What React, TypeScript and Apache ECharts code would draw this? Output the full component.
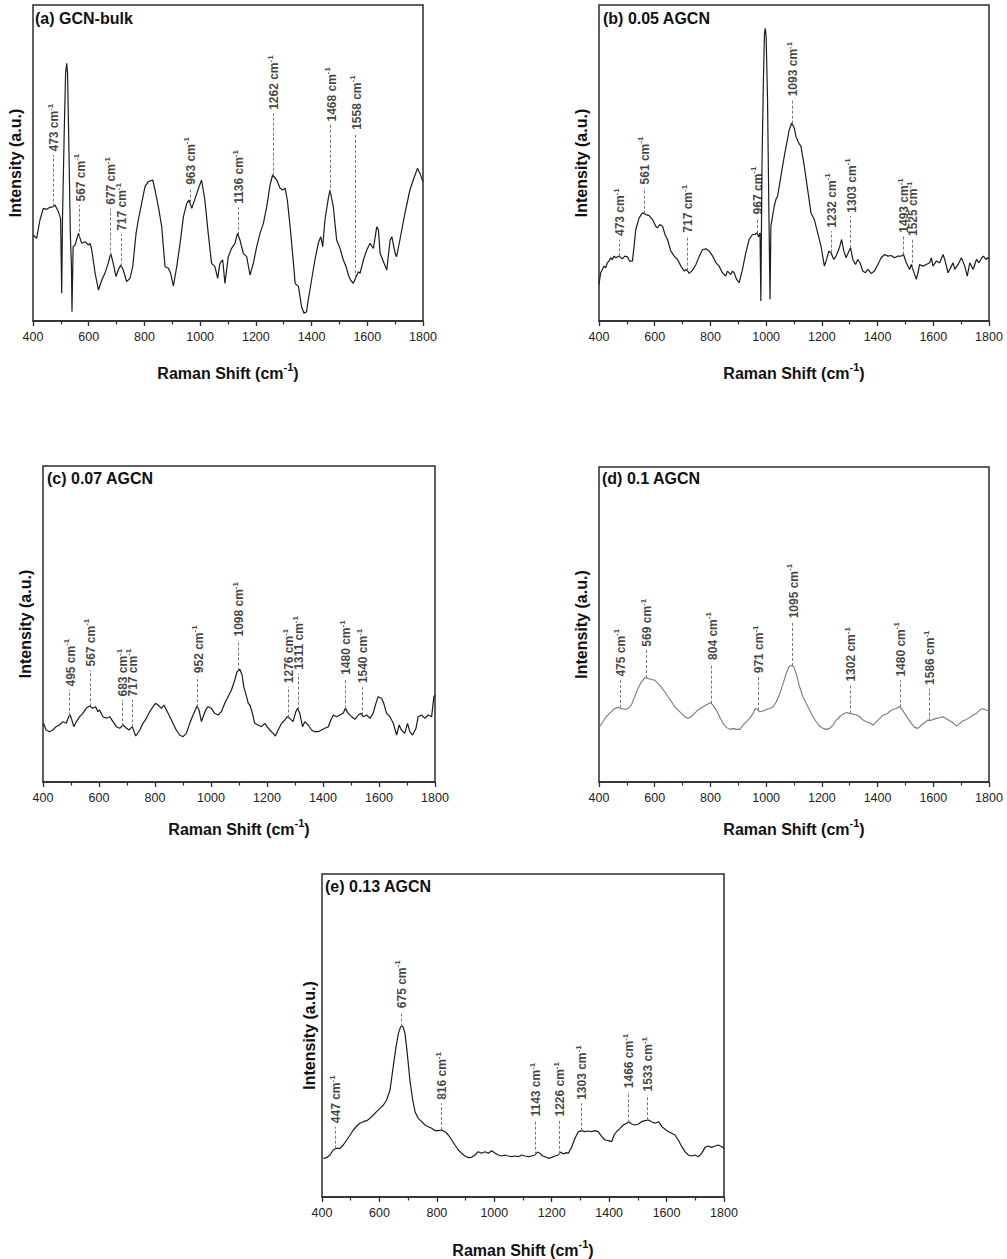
import React, { useEffect, useRef } from 'react';
import * as echarts from 'echarts';

const FONT = '"Liberation Sans", Arial, Helvetica, sans-serif';

// x ticks
const xMin = 400;
const xMax = 1800;
const xStep = 200;

// ---- (a) GCN-bulk: [Raman shift, intensity (a.u.)]
const specA: [number, number][] = [[401,295],[413,285],[425,340],[437,375],[449,372],[461,378],[473,380],[479,385],[491,365],[499,345],[503,120],[506,350],[512,600],[517,780],[521,810],[524,780],[529,550],[534,300],[538,200],[540,65],[544,260],[551,265],[563,300],[575,270],[587,275],[599,265],[605,270],[611,250],[623,180],[635,130],[647,160],[658,180],[670,210],[679,240],[688,210],[698,170],[706,190],[715,205],[724,190],[736,155],[748,165],[758,200],[770,300],[778,340],[790,390],[802,440],[814,455],[830,460],[838,430],[850,380],[862,320],[874,200],[886,195],[894,180],[904,142],[916,200],[928,270],[940,350],[952,390],[960,400],[970,375],[982,405],[994,435],[1005,460],[1017,400],[1029,300],[1041,210],[1053,200],[1063,165],[1071,210],[1081,220],[1089,150],[1101,230],[1113,255],[1125,270],[1134,300],[1143,280],[1155,240],[1167,230],[1179,175],[1191,210],[1203,260],[1215,300],[1227,330],[1239,380],[1251,445],[1260,475],[1275,460],[1287,435],[1296,430],[1305,435],[1313,400],[1323,320],[1335,210],[1341,150],[1353,140],[1364,80],[1373,60],[1382,65],[1388,100],[1400,160],[1412,220],[1424,270],[1433,290],[1440,260],[1448,340],[1460,405],[1466,430],[1478,380],[1490,280],[1502,255],[1514,220],[1524,200],[1532,175],[1540,160],[1550,150],[1560,170],[1568,185],[1574,180],[1586,220],[1598,250],[1610,270],[1622,255],[1634,320],[1640,310],[1646,240],[1658,215],[1670,190],[1682,280],[1688,290],[1700,240],[1705,230],[1717,280],[1735,360],[1753,430],[1765,460],[1780,495],[1789,480],[1800,455]];
const peaksA = [473, 567, 677, 717, 963, 1136, 1262, 1468, 1558];
const topsA = [535, 385, 375, 297, 435, 378, 660, 625, 600];

// ---- (b) 0.05 AGCN
const specB: [number, number][] = [[400,145],[406,180],[412,190],[418,200],[424,195],[430,210],[436,215],[442,225],[448,220],[454,230],[460,225],[472,230],[484,222],[493,230],[502,228],[510,215],[520,215],[526,260],[532,310],[544,345],[556,360],[568,355],[580,352],[592,340],[604,320],[610,315],[618,325],[628,320],[637,295],[646,280],[658,245],[670,230],[682,220],[694,200],[706,185],[714,190],[724,178],[736,188],[748,205],[760,230],[772,250],[784,252],[796,245],[808,230],[820,210],[831,200],[843,180],[855,170],[861,185],[873,175],[879,185],[885,180],[894,160],[903,150],[915,190],[927,240],[939,280],[951,295],[960,295],[967,300],[973,288],[978,300],[981,95],[985,500],[990,750],[994,900],[997,915],[1000,890],[1005,700],[1010,350],[1014,100],[1017,320],[1023,350],[1029,380],[1035,400],[1041,410],[1047,440],[1057,490],[1065,530],[1074,570],[1083,610],[1092,630],[1101,615],[1107,590],[1117,570],[1125,560],[1137,500],[1149,430],[1161,360],[1173,340],[1185,300],[1197,260],[1209,200],[1217,220],[1225,245],[1233,240],[1243,220],[1251,230],[1263,255],[1271,280],[1279,245],[1287,225],[1297,245],[1303,255],[1311,220],[1321,205],[1329,220],[1337,210],[1347,185],[1356,180],[1365,190],[1377,178],[1389,185],[1401,205],[1413,225],[1425,235],[1437,230],[1449,232],[1461,225],[1473,230],[1485,230],[1493,235],[1503,210],[1515,190],[1521,205],[1529,185],[1539,160],[1545,180],[1551,205],[1563,200],[1575,205],[1587,210],[1593,225],[1599,200],[1611,215],[1623,210],[1635,235],[1641,220],[1653,180],[1665,200],[1671,210],[1677,190],[1689,205],[1701,225],[1713,200],[1722,170],[1731,210],[1743,190],[1755,220],[1764,210],[1774,225],[1780,230],[1789,220],[1796,225],[1800,222]];
const peaksB = [473, 561, 717, 967, 1093, 1232, 1303, 1493, 1525];
const topsB = [280, 435, 290, 345, 700, 305, 350, 290, 280];

// ---- (c) 0.07 AGCN
const specC: [number, number][] = [[402,180],[411,160],[423,155],[435,160],[447,170],[459,175],[471,185],[483,180],[492,200],[497,205],[503,190],[510,170],[519,185],[531,200],[542,210],[554,225],[566,232],[578,225],[588,230],[596,215],[602,220],[614,200],[626,195],[638,200],[650,185],[662,170],[674,165],[686,175],[698,165],[707,160],[719,170],[731,142],[746,160],[757,180],[769,195],[781,215],[793,230],[802,240],[811,235],[823,225],[832,235],[841,220],[853,200],[864,180],[876,160],[888,145],[900,140],[912,150],[924,180],[936,205],[944,220],[950,232],[957,220],[966,185],[972,200],[981,220],[989,230],[1001,225],[1013,210],[1025,205],[1037,215],[1049,240],[1061,260],[1073,280],[1085,310],[1093,335],[1103,342],[1111,325],[1117,290],[1127,260],[1133,240],[1139,235],[1148,210],[1156,180],[1168,175],[1180,170],[1192,180],[1200,170],[1210,160],[1222,150],[1230,142],[1240,160],[1252,180],[1264,190],[1272,200],[1281,195],[1293,185],[1303,215],[1309,225],[1317,210],[1327,170],[1335,185],[1347,175],[1359,160],[1371,155],[1383,155],[1395,160],[1407,165],[1419,170],[1428,190],[1437,205],[1449,200],[1460,205],[1472,210],[1480,225],[1490,210],[1502,200],[1514,192],[1526,205],[1535,210],[1544,200],[1556,205],[1568,195],[1579,210],[1589,240],[1597,260],[1609,255],[1617,240],[1627,210],[1639,200],[1651,180],[1663,145],[1672,175],[1680,160],[1692,150],[1702,180],[1710,155],[1720,145],[1732,165],[1740,200],[1752,205],[1764,195],[1776,205],[1788,200],[1796,260],[1800,265]];
const peaksC = [495, 567, 683, 717, 952, 1098, 1276, 1311, 1480, 1540];
const topsC = [280, 340, 250, 250, 320, 430, 290, 330, 315, 290];

// ---- (d) 0.1 AGCN
const specD: [number, number][] = [[402,170],[414,185],[426,200],[438,210],[450,220],[462,227],[468,228],[480,225],[492,222],[504,225],[516,235],[528,260],[540,285],[552,305],[564,317],[576,315],[588,312],[600,310],[612,300],[624,288],[636,275],[648,260],[660,245],[672,230],[684,220],[696,210],[708,200],[719,195],[731,200],[743,210],[755,220],[773,230],[791,238],[801,242],[809,235],[821,220],[833,200],[845,180],[857,168],[869,162],[881,165],[893,162],[905,162],[917,175],[929,185],[941,195],[953,210],[961,225],[968,222],[977,215],[989,217],[1001,222],[1013,225],[1025,230],[1037,245],[1049,270],[1061,300],[1072,330],[1082,350],[1090,355],[1099,350],[1108,330],[1120,290],[1132,260],[1144,240],[1156,220],[1168,200],[1180,185],[1192,172],[1204,165],[1216,162],[1228,165],[1240,175],[1252,190],[1264,200],[1276,208],[1290,213],[1300,210],[1312,208],[1324,205],[1336,200],[1348,190],[1360,185],[1372,182],[1384,175],[1396,185],[1408,195],[1420,205],[1432,208],[1443,215],[1455,222],[1467,225],[1477,230],[1485,225],[1497,210],[1509,195],[1521,180],[1533,168],[1545,165],[1557,175],[1569,182],[1579,190],[1587,188],[1599,192],[1611,195],[1623,197],[1635,200],[1647,194],[1659,188],[1671,182],[1683,172],[1695,180],[1707,188],[1719,192],[1731,198],[1743,205],[1755,210],[1767,220],[1776,224],[1790,220],[1800,217]];
const peaksD = [475, 569, 804, 971, 1095, 1302, 1480, 1586];
const topsD = [310, 400, 360, 320, 485, 295, 310, 285];

// ---- (e) 0.13 AGCN
const specE: [number, number][] = [[405,105],[416,107],[428,115],[439,130],[449,135],[463,135],[474,145],[486,160],[498,175],[509,190],[521,202],[532,210],[544,215],[556,218],[567,225],[579,235],[590,245],[602,255],[614,265],[625,280],[637,310],[648,380],[658,440],[666,480],[674,500],[681,502],[689,480],[697,420],[706,340],[716,280],[724,245],[735,225],[747,215],[759,205],[770,200],[782,195],[794,188],[805,188],[817,190],[828,185],[840,175],[852,160],[863,145],[875,130],[886,120],[898,112],[910,107],[921,108],[933,115],[944,125],[956,120],[968,125],[979,120],[991,128],[1003,120],[1014,115],[1026,112],[1037,115],[1049,112],[1061,110],[1072,112],[1084,110],[1095,115],[1107,112],[1119,110],[1130,112],[1142,115],[1150,124],[1159,120],[1168,112],[1177,110],[1188,105],[1200,108],[1211,112],[1223,115],[1231,124],[1240,118],[1250,122],[1258,120],[1270,140],[1281,165],[1293,185],[1304,188],[1316,185],[1328,187],[1339,185],[1351,188],[1362,185],[1374,170],[1386,160],[1397,158],[1409,155],[1417,175],[1426,185],[1438,195],[1449,205],[1461,210],[1469,215],[1478,208],[1490,205],[1502,208],[1513,215],[1525,218],[1537,220],[1548,215],[1560,210],[1572,215],[1584,200],[1595,192],[1607,185],[1618,180],[1629,175],[1641,160],[1653,140],[1664,125],[1676,115],[1687,112],[1699,115],[1711,110],[1722,120],[1734,138],[1745,142],[1757,138],[1769,142],[1780,145],[1792,140],[1800,135]];
const peaksE = [447, 675, 816, 1143, 1226, 1303, 1466, 1533];
const topsE = [200, 545, 270, 220, 220, 270, 305, 295];

const titles = ['(a) GCN-bulk', '(b) 0.05 AGCN', '(c) 0.07 AGCN', '(d) 0.1 AGCN', '(e) 0.13 AGCN'];
const yRanges: [number, number][] = [[37, 985], [35, 985], [4, 952], [4, 950], [-11, 958]];

// layout (pixels)
const layout = [
  { left: 33, top: 5, width: 390, height: 316, tx: 35, ty: 10, color: '#1c1c1c', lw: 1.2, xGap: 40, yGap: 10 },
  { left: 599, top: 5, width: 390, height: 316, tx: 603, ty: 10, color: '#1c1c1c', lw: 1.2, xGap: 40, yGap: 10 },
  { left: 43, top: 466, width: 392, height: 316, tx: 47, ty: 470, color: '#1c1c1c', lw: 1.2, xGap: 35, yGap: 10 },
  { left: 599, top: 467, width: 390, height: 315, tx: 602, ty: 470, color: '#7a7a7a', lw: 1.1, xGap: 35, yGap: 10 },
  { left: 322, top: 874, width: 402, height: 323, tx: 325, ty: 878, color: '#1c1c1c', lw: 1.2, xGap: 41, yGap: 5 },
];

const specs = [specA, specB, specC, specD, specE];
const peaks = [peaksA, peaksB, peaksC, peaksD, peaksE];
const tops = [topsA, topsB, topsC, topsD, topsE];

function valueAt(spec: [number, number][], x: number): number {
  for (let i = 0; i < spec.length - 1; i++) {
    const [x0, y0] = spec[i];
    const [x1, y1] = spec[i + 1];
    if (x >= x0 && x <= x1) {
      return x1 === x0 ? y0 : y0 + ((y1 - y0) * (x - x0)) / (x1 - x0);
    }
  }
  return spec[spec.length - 1][1];
}

export default function App() {
  const ref = useRef<HTMLDivElement>(null);
  useEffect(() => {
    if (!ref.current) return;
    document.body.style.margin = '0';
    const chart = echarts.init(ref.current, undefined, { renderer: 'svg' });
    const axisColor = '#2b2b2b';
    const option: any = {
      animation: false,
      backgroundColor: '#ffffff',
      title: titles.map((t, i) => ({
        text: t,
        left: layout[i].tx,
        top: layout[i].ty,
        padding: 0,
        textStyle: { fontSize: 16, fontWeight: 'bold', color: '#111', fontFamily: FONT },
      })),
      grid: layout.map((l) => ({
        left: l.left,
        top: l.top,
        width: l.width,
        height: l.height,
        show: true,
        borderColor: axisColor,
        borderWidth: 1.5,
        backgroundColor: 'transparent',
        containLabel: false,
      })),
      xAxis: layout.map((l, i) => ({
        type: 'value',
        gridIndex: i,
        min: xMin,
        max: xMax,
        interval: xStep,
        name: '{a|Raman Shift (cm}{s|-1}{a|)}',
        nameLocation: 'middle',
        nameGap: l.xGap,
        nameTextStyle: {
          rich: {
            a: { fontSize: 16, fontWeight: 'bold', color: '#111', fontFamily: FONT, verticalAlign: 'bottom', lineHeight: 20 },
            s: { fontSize: 11, fontWeight: 'bold', color: '#111', fontFamily: FONT, verticalAlign: 'top', lineHeight: 20 },
          },
        },
        axisLine: { show: true, onZero: false, lineStyle: { color: axisColor, width: 1.5 } },
        axisTick: { show: true, inside: false, length: 5, lineStyle: { color: axisColor, width: 1.3 } },
        minorTick: { show: true, splitNumber: 2, length: 3.5, lineStyle: { color: axisColor, width: 1.2 } },
        axisLabel: { fontSize: 12.5, color: '#222', margin: 9, fontFamily: FONT, formatter: (v: number) => String(v) },
        splitLine: { show: false },
      })),
      yAxis: layout.map((l, i) => ({
        type: 'value',
        gridIndex: i,
        min: yRanges[i][0],
        max: yRanges[i][1],
        name: 'Intensity (a.u.)',
        nameLocation: 'middle',
        nameGap: l.yGap,
        nameTextStyle: { fontSize: 16, fontWeight: 'bold', color: '#111', fontFamily: FONT },
        axisLine: { show: false, onZero: false },
        axisTick: { show: false },
        axisLabel: { show: false },
        splitLine: { show: false },
      })),
      series: [] as any[],
    };
    layout.forEach((l, i) => {
      option.series.push({
        type: 'line',
        xAxisIndex: i,
        yAxisIndex: i,
        data: specs[i],
        showSymbol: false,
        symbol: 'none',
        silent: true,
        lineStyle: { color: l.color, width: l.lw },
        z: 3,
        markLine: {
          silent: true,
          symbol: ['none', 'none'],
          label: { show: false },
          lineStyle: { color: '#777', width: 1, type: [3, 2] },
          data: peaks[i].map((x, j) => [
            { coord: [x, valueAt(specs[i], x)] },
            { coord: [x, tops[i][j]] },
          ]),
        },
      });
      option.series.push({
        type: 'scatter',
        xAxisIndex: i,
        yAxisIndex: i,
        silent: true,
        symbolSize: 1,
        itemStyle: { color: 'rgba(0,0,0,0)' },
        data: peaks[i].map((x, j) => ({ name: String(x), value: [x, tops[i][j]] })),
        label: {
          show: true,
          position: 'top',
          distance: 3,
          rotate: 90,
          align: 'left',
          verticalAlign: 'middle',
          formatter: (p: any) => `{a|${p.name} cm}{s|-1}`,
          rich: {
            a: { fontSize: 12, fontWeight: 'bold', color: '#111', fontFamily: FONT, verticalAlign: 'bottom', lineHeight: 14 },
            s: { fontSize: 8, fontWeight: 'bold', color: '#111', fontFamily: FONT, verticalAlign: 'top', lineHeight: 14 },
          },
        },
        z: 4,
      });
    });
    chart.setOption(option);
    return () => chart.dispose();
  }, []);
  return <div ref={ref} style={{ position: 'absolute', left: 0, top: 0, width: 1007, height: 1259 }} />;
}
